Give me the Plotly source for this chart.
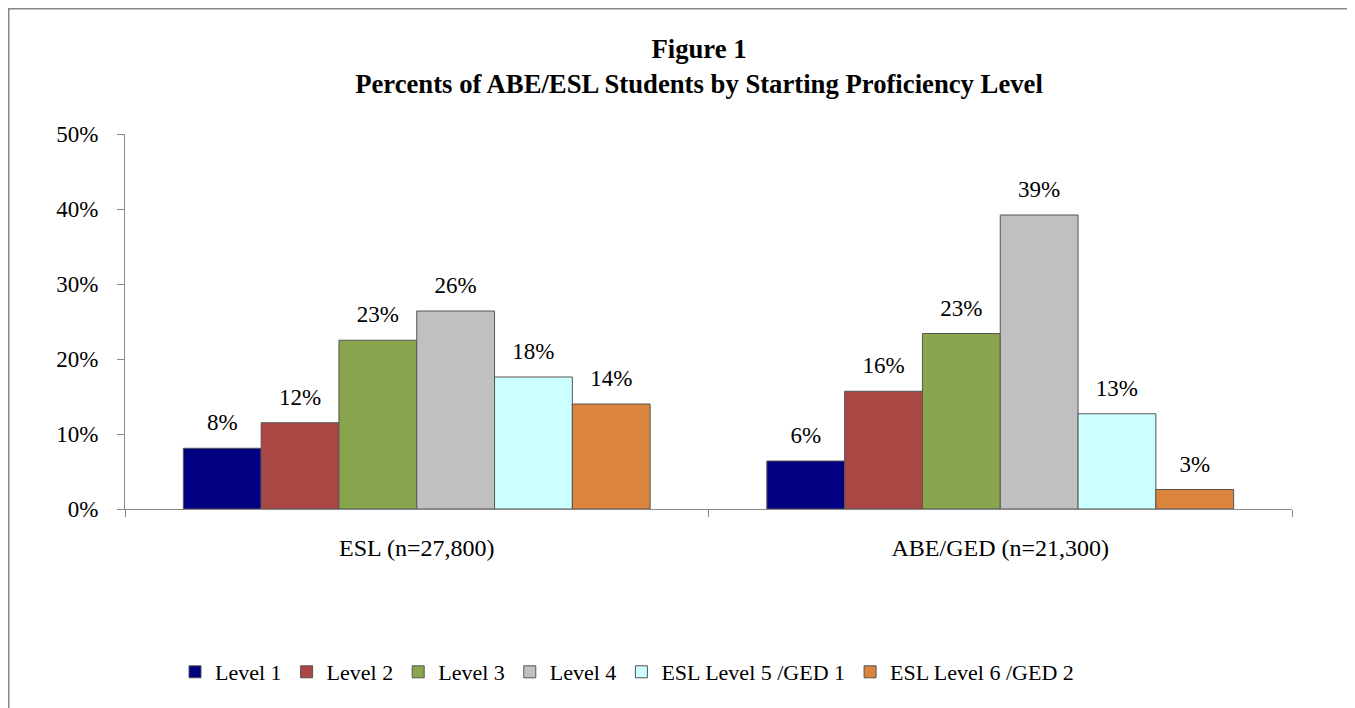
import plotly.graph_objects as go

categories = ["ESL (n=27,800)", "ABE/GED (n=21,300)"]
series_names = ["Level 1", "Level 2", "Level 3", "Level 4", "ESL Level 5 /GED 1", "ESL Level 6 /GED 2"]
level1 = [0.081, 0.064]
level2 = [0.115, 0.157]
level3 = [0.225, 0.234]
level4 = [0.264, 0.392]
level5 = [0.176, 0.127]
level6 = [0.140, 0.026]
series_values = [level1, level2, level3, level4, level5, level6]
colors = ["#000080", "#AA4643", "#89A54E", "#C0C0C0", "#CCFFFF", "#DB843D"]
y_ticks = [0, 0.1, 0.2, 0.3, 0.4, 0.5]

# the page body has an 8px margin, so figure pixels = screen pixels - 8
W, H = 1347, 700
ml, mr, mt, mb = 117, 63, 126, 199
pw, ph = W - ml - mr, H - mt - mb

FONT = "Liberation Serif, Times New Roman, serif"

fig = go.Figure()
for i, (name, vals, col) in enumerate(zip(series_names, series_values, colors)):
    fig.add_trace(go.Bar(
        x=categories, y=vals, name=name, offsetgroup=str(i),
        marker=dict(color=col, line=dict(color="#555555", width=1)),
        cliponaxis=False,
    ))
for i, vals in enumerate(series_values):
    fig.add_trace(go.Scatter(
        x=categories, y=vals, offsetgroup=str(i), mode="markers+text",
        marker=dict(size=18, color="rgba(0,0,0,0)"),
        texttemplate="%{y:.0%}", textposition="top center",
        textfont=dict(family=FONT, size=23, color="black"),
        showlegend=False, hoverinfo="skip", cliponaxis=False,
    ))

def px_x(p):
    return (p - ml) / pw

def px_y(p):
    return (H - mb - p) / ph

fig.add_shape(type="rect", xref="paper", yref="paper",
              x0=px_x(0), x1=px_x(1344), y0=px_y(720), y1=px_y(0),
              line=dict(color="#888888", width=3), fillcolor="rgba(0,0,0,0)", layer="below")

fig.update_layout(
    width=W, height=H,
    margin=dict(l=ml, r=mr, t=mt, b=mb),
    paper_bgcolor="white", plot_bgcolor="white",
    barmode="group", bargap=0.2, bargroupgap=0,
    scattermode="group", scattergap=0.2,
    font=dict(family=FONT, size=23, color="black"),
    title=dict(text="<b>Figure 1<br>Percents of ABE/ESL Students by Starting Proficiency Level</b>",
               x=691 / W, xanchor="center", y=1 - 50 / H, yanchor="middle",
               font=dict(family=FONT, size=26.7, color="black")),
    legend=dict(orientation="h", x=px_x(619), xanchor="center", y=px_y(664), yanchor="middle",
                font=dict(family=FONT, size=22, color="black"),
                itemwidth=30, traceorder="normal"),
    xaxis=dict(showline=True, linecolor="#888888", linewidth=1, ticks="outside", tickson="boundaries",
               ticklen=7, tickcolor="#888888", showgrid=False, ticklabelstandoff=17,
               tickfont=dict(family=FONT, size=24)),
    yaxis=dict(range=[0, 0.5], tickvals=y_ticks, tickformat=".0%", showline=True, linecolor="#888888",
               linewidth=1, ticks="outside", ticklen=7, tickcolor="#888888", showgrid=False,
               zeroline=False, ticklabelstandoff=14, tickfont=dict(family=FONT, size=23)),
)

fig.write_html("out.html")
